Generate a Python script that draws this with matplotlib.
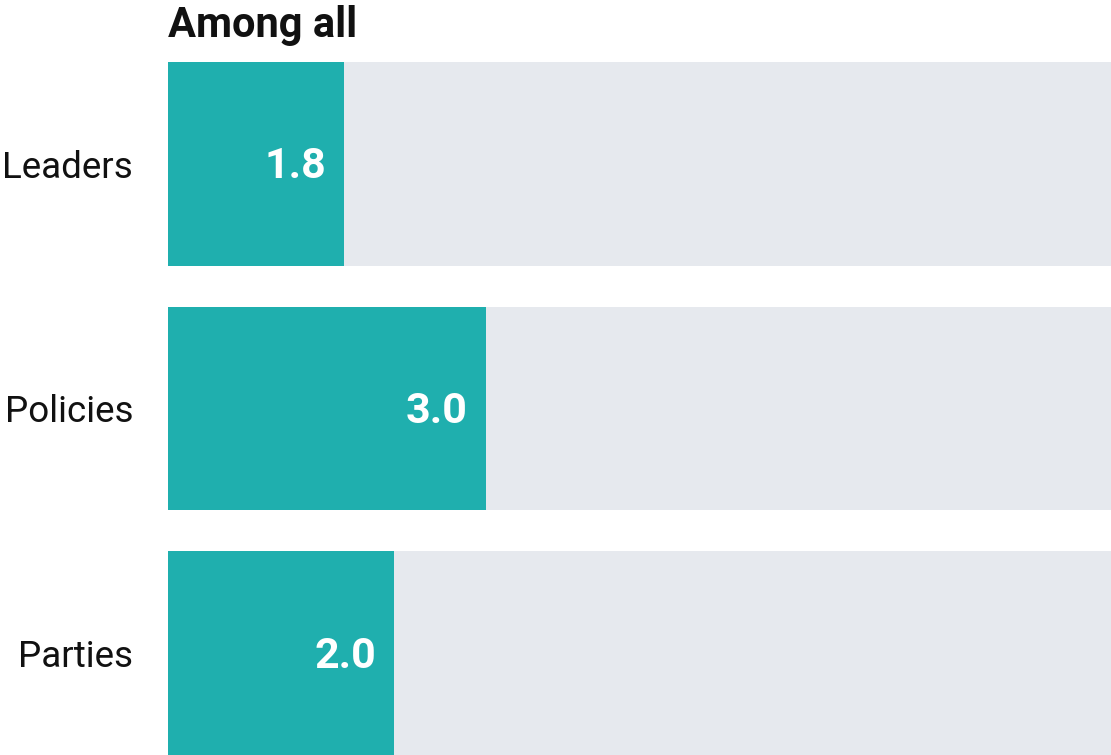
import matplotlib
matplotlib.use("Agg")
import matplotlib.pyplot as plt

categories = ["Leaders", "Policies", "Parties"]
bar_lengths = [1.87, 3.37, 2.40]          # bar lengths (scale 0-10)
value_labels = ["1.8", "3.0", "2.0"]      # printed labels
scale_max = 10
title = "Among all"

teal = "#1FAFAE"
track = "#E6E9EE"

W, H = 1111, 755
fig = plt.figure(figsize=(W / 100, H / 100), dpi=100)
ax = fig.add_axes([168 / W, 0, 943 / W, 693 / H])

ypos = list(range(len(categories)))
h = 0.834
ax.barh(ypos, [scale_max] * len(ypos), height=h, color=track, linewidth=0)
ax.barh(ypos, bar_lengths, height=h, color=teal, linewidth=0)

ax.set_xlim(0, scale_max)
ax.set_ylim(2 + h / 2, -h / 2)

pad_pts = 18 * 72 / 100
for y, v, lab in zip(ypos, bar_lengths, value_labels):
    ax.annotate(lab, xy=(v, y), xytext=(-pad_pts, -3 * 72 / 100), textcoords="offset points",
                ha="right", va="center", color="white", fontsize=31,
                fontweight="bold", family="Roboto")

ax.set_yticks(ypos)
ax.set_yticklabels(categories, fontsize=26.5, family="Roboto", fontweight="normal",
                   color="#111111")
ax.tick_params(axis="y", length=0, pad=35 * 72 / 100)
ax.set_xticks([])
for s in ax.spines.values():
    s.set_visible(False)

fig.text(168 / W, 1 - 37 / H, title, ha="left", va="baseline",
         fontsize=30, fontweight="bold", family="Roboto", color="#111111")

fig.savefig("out.png", dpi=100)
